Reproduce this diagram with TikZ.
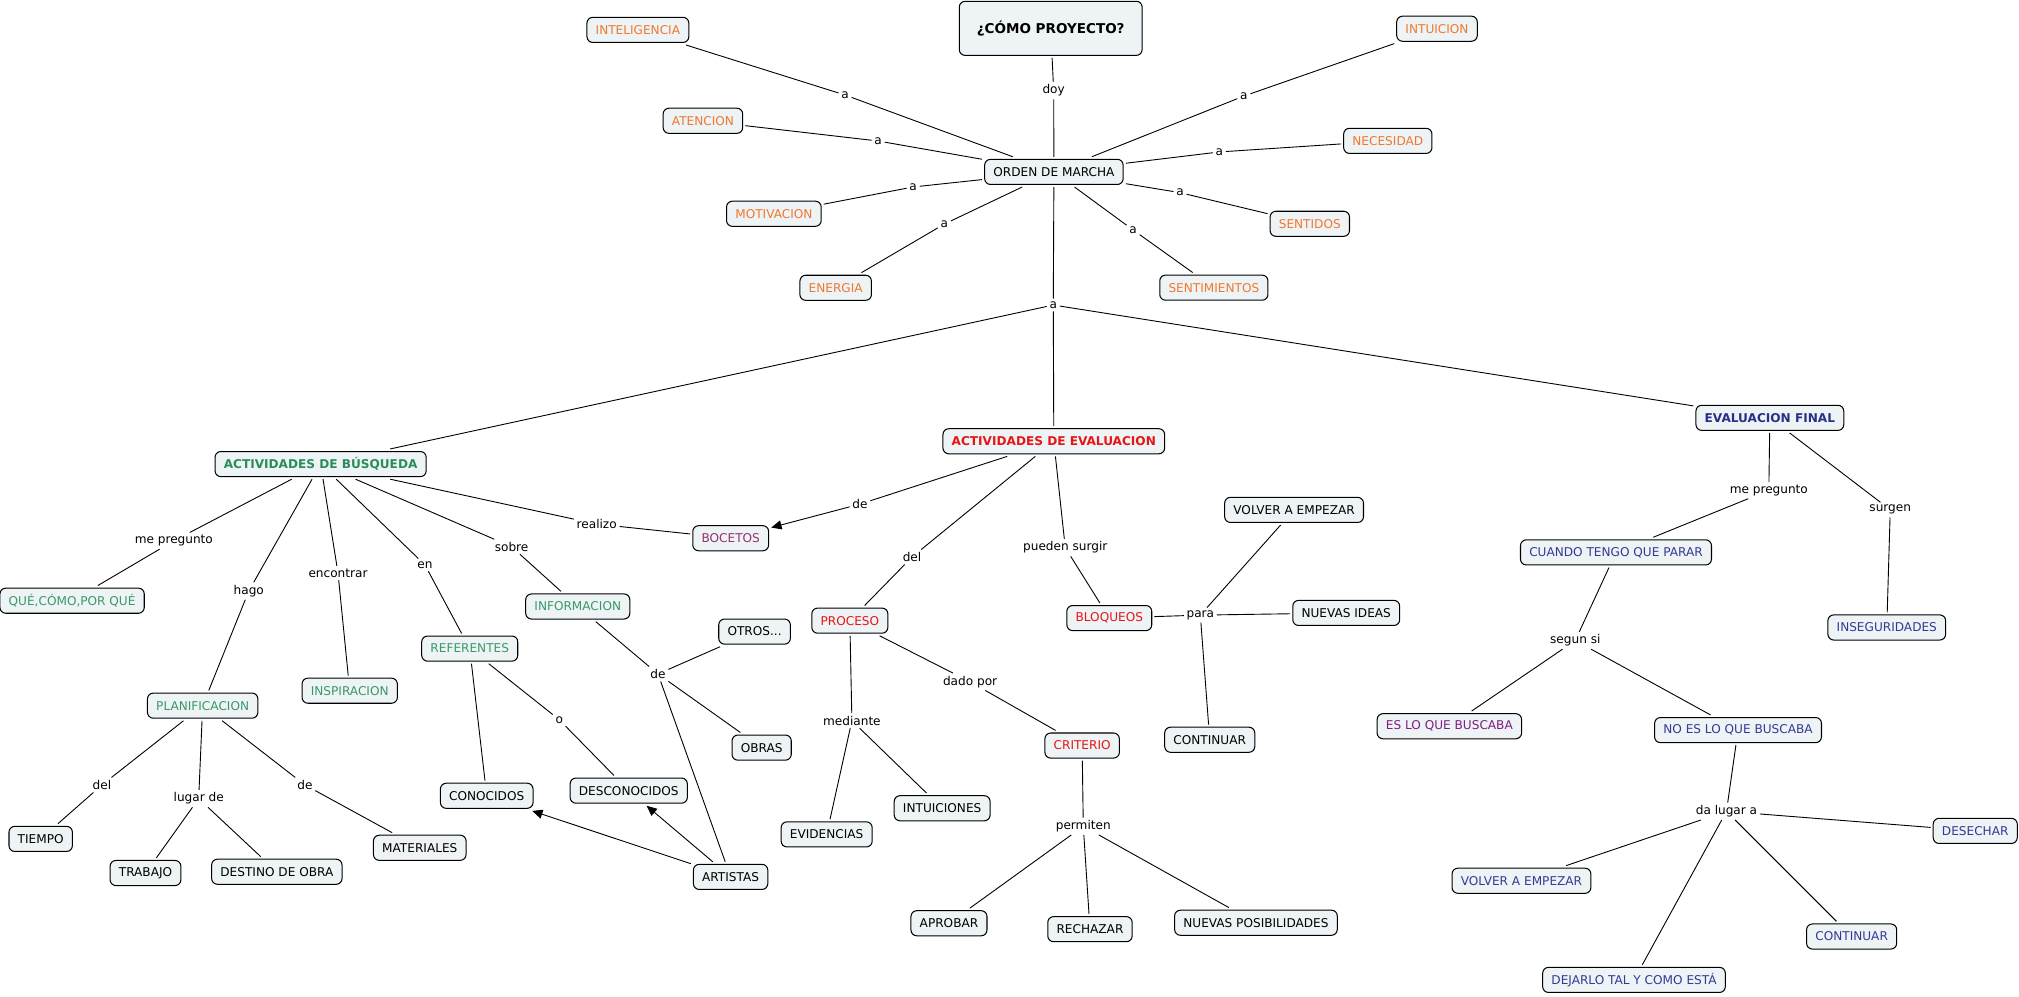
\documentclass[tikz,border=0pt]{standalone}
\usepackage{fontspec}
\setmainfont{DejaVu Sans}
\usetikzlibrary{arrows.meta}
\definecolor{orC}{RGB}{238,120,45}
\definecolor{grC}{RGB}{58,152,104}
\definecolor{grB}{RGB}{42,140,92}
\definecolor{rdC}{RGB}{228,22,22}
\definecolor{puC}{RGB}{150,50,110}
\definecolor{pu2}{RGB}{128,30,128}
\definecolor{blC}{RGB}{52,58,148}
\definecolor{blB}{RGB}{40,48,135}
\definecolor{fillC}{RGB}{238,243,246}
\tikzset{
  cbox/.style={draw=black, line width=0.8pt, fill=fillC, rounded corners=4.5pt,
    font=\fontsize{9.4}{11}\selectfont, inner xsep=6.8pt, inner ysep=3pt,
    minimum height=19.5pt, outer sep=2pt, text=black},
  bbox/.style={cbox, font=\fontsize{9.4}{11}\selectfont\bfseries},
  lab/.style={font=\fontsize{9.4}{11}\selectfont, inner sep=2pt, text=black},
  con/.style={line width=0.7pt, draw=black},
  arr/.style={con, -{Triangle[length=8pt,width=7pt]}},
}
\begin{document}
\begin{tikzpicture}[x=1pt,y=-1pt]
\useasboundingbox[fill=white] (0,0) rectangle (1568,774);
% ---------- top
\node[cbox, font=\fontsize{10.5}{12}\selectfont\bfseries, minimum width=142pt, minimum height=42pt, outer sep=2pt] (cp) at (816,22) {¿CÓMO PROYECTO?};
\node[cbox] (om) at (818.5,133.5) {ORDEN DE MARCHA};
\node[cbox, text=orC] (intel) at (495.4,23.2) {INTELIGENCIA};
\node[cbox, text=orC] (intu) at (1116,22.3) {INTUICION};
\node[cbox, text=orC] (aten) at (545.9,93.8) {ATENCION};
\node[cbox, text=orC] (nec) at (1077.8,109.4) {NECESIDAD};
\node[cbox, text=orC] (mot) at (601,166) {MOTIVACION};
\node[cbox, text=orC] (sent) at (1017.2,173.8) {SENTIDOS};
\node[cbox, text=orC] (ener) at (649,223.5) {ENERGIA};
\node[cbox, text=orC] (senti) at (942.7,223.4) {SENTIMIENTOS};
\node[lab] (ldoy) at (818.3,70.4) {doy};
\node[lab] (la1) at (656.3,73.8) {a};
\node[lab] (la2) at (682,109.5) {a};
\node[lab] (la3) at (709.2,145.2) {a};
\node[lab] (la4) at (733.4,174) {a};
\node[lab] (la5) at (966,74.6) {a};
\node[lab] (la6) at (947,118) {a};
\node[lab] (la7) at (916.4,149.6) {a};
\node[lab] (la8) at (880,178.6) {a};
\node[lab] (la9) at (818,236.9) {a};
% ---------- main branches
\node[bbox, text=grB] (ab) at (249,360.4) {ACTIVIDADES DE BÚSQUEDA};
\node[bbox, text=rdC] (ae) at (818.4,342.7) {ACTIVIDADES DE EVALUACION};
\node[bbox, text=blB] (ef) at (1374.5,324.5) {EVALUACION FINAL};
% ---------- left
\node[lab] (lmp) at (135,420) {me pregunto};
\node[cbox, text=grC] (q) at (56,466.5) {QUÉ,CÓMO,POR QUÉ};
\node[lab] (lhago) at (193.2,459) {hago};
\node[lab] (lenc) at (262.5,445) {encontrar};
\node[lab] (len) at (330,438.7) {en};
\node[lab] (lsob) at (397.3,424.6) {sobre};
\node[lab] (lreal) at (463.4,407) {realizo};
\node[cbox, text=grC] (plan) at (157.4,548) {PLANIFICACION};
\node[cbox, text=grC] (insp) at (271.6,536.4) {INSPIRACION};
\node[cbox, text=grC] (ref) at (364.8,503.7) {REFERENTES};
\node[cbox, text=grC] (info) at (448.7,471) {INFORMACION};
\node[cbox, text=puC] (boc) at (567.5,418) {BOCETOS};
\node[lab] (ldel1) at (79.2,609.6) {del};
\node[lab] (llug) at (154.3,620.2) {lugar de};
\node[lab] (lde1) at (236.8,609.6) {de};
\node[cbox] (tiempo) at (31.6,651.5) {TIEMPO};
\node[cbox] (trab) at (113,678) {TRABAJO};
\node[cbox] (dest) at (215,677) {DESTINO DE OBRA};
\node[cbox] (mat) at (326,658.4) {MATERIALES};
\node[lab] (lo) at (434.4,559) {o};
\node[cbox] (con) at (378,618) {CONOCIDOS};
\node[cbox] (des) at (488.3,614) {DESCONOCIDOS};
\node[lab] (lde2) at (511,523.4) {de};
\node[cbox] (otros) at (586,490.5) {OTROS...};
\node[cbox] (obras) at (591.5,580.6) {OBRAS};
\node[cbox] (art) at (567.4,681) {ARTISTAS};
% ---------- middle
\node[lab] (lde3) at (667.9,391.5) {de};
\node[lab] (ldel2) at (708.3,432.6) {del};
\node[lab] (lps) at (827.3,425.3) {pueden surgir};
\node[cbox, text=rdC] (proc) at (660,482) {PROCESO};
\node[cbox, text=rdC] (bloq) at (861.5,480) {BLOQUEOS};
\node[lab] (lpara) at (932.2,477.7) {para};
\node[cbox] (volv1) at (1005,396) {VOLVER A EMPEZAR};
\node[cbox] (nuev) at (1045.5,476) {NUEVAS IDEAS};
\node[cbox] (cont1) at (939.5,574.5) {CONTINUAR};
\node[lab] (ldado) at (753.4,529.5) {dado por};
\node[lab] (lmed) at (661.6,559.7) {mediante};
\node[cbox, text=rdC] (crit) at (840.4,579) {CRITERIO};
\node[cbox] (intui) at (731.7,627.7) {INTUICIONES};
\node[cbox] (evid) at (642,648) {EVIDENCIAS};
\node[lab] (lperm) at (841.3,641.7) {permiten};
\node[cbox] (apr) at (737,717) {APROBAR};
\node[cbox] (rech) at (846.5,721.6) {RECHAZAR};
\node[cbox] (nuevp) at (975.4,716.6) {NUEVAS POSIBILIDADES};
% ---------- right
\node[lab] (lmp2) at (1373.7,380.8) {me pregunto};
\node[lab] (lsurg) at (1468,395.9) {surgen};
\node[cbox, text=blC] (cuando) at (1255,429) {CUANDO TENGO QUE PARAR};
\node[cbox, text=blC] (inseg) at (1465.3,487.3) {INSEGURIDADES};
\node[lab] (lseg) at (1223.4,497.4) {segun si};
\node[cbox, text=pu2] (eslo) at (1125.6,564) {ES LO QUE BUSCABA};
\node[cbox, text=blC] (noes) at (1349.8,567) {NO ES LO QUE BUSCABA};
\node[lab] (lda) at (1340.8,630.1) {da lugar a};
\node[cbox, text=blC] (desech) at (1534,645.3) {DESECHAR};
\node[cbox, text=blC] (volv2) at (1181.6,684) {VOLVER A EMPEZAR};
\node[cbox, text=blC] (cont2) at (1438,727.3) {CONTINUAR};
\node[cbox, text=blC] (dej) at (1269,761) {DEJARLO TAL Y COMO ESTÁ};
% ---------- connectors top
\draw[con] (cp) -- (ldoy) -- (om);
\draw[con] (intel) -- (la1) -- (om);
\draw[con] (aten) -- (la2) -- (om);
\draw[con] (mot) -- (la3) -- (om);
\draw[con] (ener) -- (la4) -- (om);
\draw[con] (intu) -- (la5) -- (om);
\draw[con] (nec) -- (la6) -- (om);
\draw[con] (sent) -- (la7) -- (om);
\draw[con] (senti) -- (la8) -- (om);
\draw[con] (om) -- (la9);
\draw[con] (la9) -- (ab);
\draw[con] (la9) -- (ae);
\draw[con] (la9) -- (ef);
% ---------- left
\draw[con] (ab) -- (lmp) -- (q);
\draw[con] (ab) -- (lhago) -- (plan);
\draw[con] (ab) -- (lenc) -- (insp);
\draw[con] (ab) -- (len) -- (ref);
\draw[con] (ab) -- (lsob) -- (info);
\draw[con] (ab) -- (lreal) -- (boc);
\draw[con] (plan) -- (ldel1) -- (tiempo);
\draw[con] (plan) -- (llug);
\draw[con] (llug) -- (trab);
\draw[con] (llug) -- (dest);
\draw[con] (plan) -- (lde1) -- (mat);
\draw[con] (ref) -- (con);
\draw[con] (ref) -- (lo) -- (des);
\draw[con] (info) -- (lde2);
\draw[con] (lde2) -- (otros);
\draw[con] (lde2) -- (obras);
\draw[con] (lde2) -- (art);
\draw[arr] (art) -- (con);
\draw[arr] (art) -- (des);
% ---------- middle
\draw[con] (ae) -- (lde3);
\draw[arr] (lde3) -- (boc);
\draw[con] (ae) -- (ldel2) -- (proc);
\draw[con] (ae) -- (lps) -- (bloq);
\draw[con] (bloq) -- (lpara);
\draw[con] (lpara) -- (volv1);
\draw[con] (lpara) -- (nuev);
\draw[con] (lpara) -- (cont1);
\draw[con] (proc) -- (ldado) -- (crit);
\draw[con] (proc) -- (lmed);
\draw[con] (lmed) -- (evid);
\draw[con] (lmed) -- (intui);
\draw[con] (crit) -- (lperm);
\draw[con] (lperm) -- (apr);
\draw[con] (lperm) -- (rech);
\draw[con] (lperm) -- (nuevp);
% ---------- right
\draw[con] (ef) -- (lmp2) -- (cuando);
\draw[con] (ef) -- (lsurg) -- (inseg);
\draw[con] (cuando) -- (lseg);
\draw[con] (lseg) -- (eslo);
\draw[con] (lseg) -- (noes);
\draw[con] (noes) -- (lda);
\draw[con] (lda) -- (desech);
\draw[con] (lda) -- (volv2);
\draw[con] (lda) -- (cont2);
\draw[con] (lda) -- (dej);
\end{tikzpicture}
\end{document}
